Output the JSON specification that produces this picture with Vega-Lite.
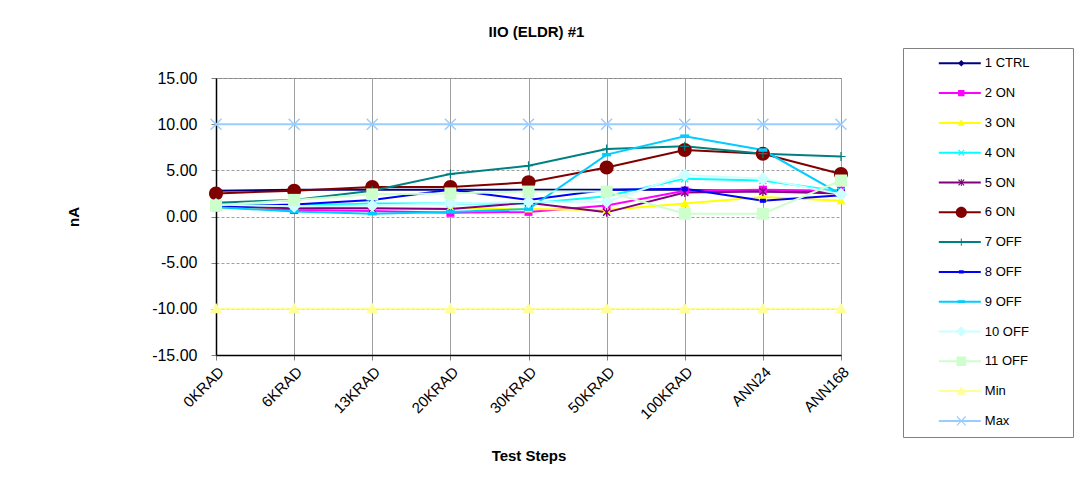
{
  "$schema": "https://vega.github.io/schema/vega-lite/v6.json",
  "autosize": "none",
  "width": 625,
  "height": 277,
  "padding": {"left": 216, "top": 78, "right": 242, "bottom": 144},
  "background": "white",
  "title": {"text": "IIO (ELDR) #1", "font": "Liberation Sans", "fontSize": 15, "fontWeight": "bold", "color": "black", "frame": "group", "anchor": "middle", "offset": 8, "dx": 8},
  "config": {
    "view": {"stroke": "#808080", "strokeWidth": 1},
    "font": "Liberation Sans"
  },
  "data": {
    "values": [
      {"step": "0KRAD", "1 CTRL": 2.8, "2 ON": 1.0, "3 ON": 0.9, "4 ON": 1.4, "5 ON": 1.1, "6 ON": 2.5, "7 OFF": 1.5, "8 OFF": 1.1, "9 OFF": 1.0, "10 OFF": 1.3, "11 OFF": 1.2, "Min": -10, "Max": 10},
      {"step": "6KRAD", "1 CTRL": 2.9, "2 ON": 0.7, "3 ON": 1.0, "4 ON": 1.2, "5 ON": 0.9, "6 ON": 2.8, "7 OFF": 1.8, "8 OFF": 1.3, "9 OFF": 0.55, "10 OFF": 1.1, "11 OFF": 1.8, "Min": -10, "Max": 10},
      {"step": "13KRAD", "1 CTRL": 2.9, "2 ON": 0.6, "3 ON": 0.8, "4 ON": 1.4, "5 ON": 0.9, "6 ON": 3.2, "7 OFF": 2.8, "8 OFF": 1.8, "9 OFF": 0.3, "10 OFF": 1.2, "11 OFF": 2.4, "Min": -10, "Max": 10},
      {"step": "20KRAD", "1 CTRL": 2.9, "2 ON": 0.4, "3 ON": 0.9, "4 ON": 1.4, "5 ON": 0.8, "6 ON": 3.2, "7 OFF": 4.6, "8 OFF": 2.9, "9 OFF": 0.5, "10 OFF": 1.4, "11 OFF": 2.5, "Min": -10, "Max": 10},
      {"step": "30KRAD", "1 CTRL": 2.9, "2 ON": 0.5, "3 ON": 0.8, "4 ON": 1.4, "5 ON": 1.5, "6 ON": 3.7, "7 OFF": 5.5, "8 OFF": 1.8, "9 OFF": 0.8, "10 OFF": 1.6, "11 OFF": 2.7, "Min": -10, "Max": 10},
      {"step": "50KRAD", "1 CTRL": 2.9, "2 ON": 1.2, "3 ON": 0.7, "4 ON": 2.2, "5 ON": 0.45, "6 ON": 5.3, "7 OFF": 7.3, "8 OFF": 2.9, "9 OFF": 6.7, "10 OFF": 1.6, "11 OFF": 2.7, "Min": -10, "Max": 10},
      {"step": "100KRAD", "1 CTRL": 2.9, "2 ON": 2.8, "3 ON": 1.4, "4 ON": 4.1, "5 ON": 2.6, "6 ON": 7.2, "7 OFF": 7.6, "8 OFF": 3.0, "9 OFF": 8.7, "10 OFF": 4.5, "11 OFF": 0.3, "Min": -10, "Max": 10},
      {"step": "ANN24", "1 CTRL": 2.7, "2 ON": 2.9, "3 ON": 2.1, "4 ON": 3.9, "5 ON": 2.7, "6 ON": 6.8, "7 OFF": 6.8, "8 OFF": 1.7, "9 OFF": 7.2, "10 OFF": 4.1, "11 OFF": 0.3, "Min": -10, "Max": 10},
      {"step": "ANN168", "1 CTRL": 2.8, "2 ON": 2.8, "3 ON": 1.7, "4 ON": 2.7, "5 ON": 2.5, "6 ON": 4.6, "7 OFF": 6.5, "8 OFF": 2.3, "9 OFF": 2.4, "10 OFF": 2.4, "11 OFF": 3.9, "Min": -10, "Max": 10}
    ]
  },
  "transform": [
    {"fold": ["1 CTRL", "2 ON", "3 ON", "4 ON", "5 ON", "6 ON", "7 OFF", "8 OFF", "9 OFF", "10 OFF", "11 OFF", "Min", "Max"], "as": ["series", "v"]}
  ],
  "encoding": {
    "x": {
      "field": "step", "type": "ordinal", "sort": null,
      "scale": {"type": "point", "padding": 0},
      "axis": {"title": "Test Steps", "titleFont": "Liberation Sans", "titleFontSize": 15, "titleFontWeight": "bold", "titleColor": "black", "titlePadding": 27,
        "labelAngle": -45, "labelFont": "Liberation Sans", "labelFontSize": 15, "labelColor": "black", "labelPadding": 4,
        "tickSize": 5, "tickColor": "#808080", "domainColor": "black", "domainWidth": 1.5,
        "grid": true, "gridColor": "#a0a0a0", "gridWidth": 1}
    },
    "y": {
      "field": "v", "type": "quantitative",
      "scale": {"domain": [-15, 15], "nice": false, "zero": false},
      "axis": {"title": "nA", "titleFont": "Liberation Sans", "titleFontSize": 15, "titleFontWeight": "bold", "titleColor": "black", "titlePadding": 70,
        "values": [-15, -10, -5, 0, 5, 10, 15],
        "labelExpr": "replace(format(datum.value, '.2f'), '\u2212', '-')",
        "labelFont": "Liberation Sans", "labelFontSize": 16, "labelColor": "black", "labelPadding": 14,
        "tickSize": 5, "tickColor": "#808080", "domainColor": "black", "domainWidth": 1.5,
        "grid": true, "gridColor": "#a0a0a0", "gridDash": [3, 2], "gridWidth": 1}
    }
  },
  "layer": [
    {
      "mark": {"type": "line", "strokeWidth": 2},
      "encoding": {
        "stroke": {
          "field": "series", "type": "nominal",
          "sort": ["1 CTRL", "2 ON", "3 ON", "4 ON", "5 ON", "6 ON", "7 OFF", "8 OFF", "9 OFF", "10 OFF", "11 OFF", "Min", "Max"],
          "scale": {
            "range": ["#000080", "#FF00FF", "#FFFF00", "#00FFFF", "#800080", "#800000", "#008080", "#0000FF", "#00CCFF", "#CCFFFF", "#CCFFCC", "#FFFF99", "#99CCFF"]
          },
          "legend": {
            "orient": "none", "legendX": 687, "legendY": -30,
            "title": "|", "titleOrient": "right", "titleColor": "transparent", "titleFontSize": 13, "titlePadding": 30,
            "symbolType": "M-1,0H1", "symbolSize": 1764, "symbolStrokeWidth": 2,
            "clipHeight": 13, "rowPadding": 15.8, "padding": 8.8, "symbolOffset": 26, "labelOffset": 3,
            "labelFont": "Liberation Sans", "labelFontSize": 13, "labelColor": "black",
            "strokeColor": "#808080"
          }
        }
      }
    },
    {
      "mark": {"type": "point", "filled": true, "size": 100, "opacity": 1, "strokeWidth": 0},
      "encoding": {
        "color": {
          "field": "series", "type": "nominal",
          "scale": {
            "domain": ["1 CTRL", "2 ON", "3 ON", "4 ON", "5 ON", "6 ON", "7 OFF", "8 OFF", "9 OFF", "10 OFF", "11 OFF", "Min", "Max"],
            "range": ["#000080", "#FF00FF", "#FFFF00", "#00FFFF", "#800080", "#800000", "#008080", "#0000FF", "#00CCFF", "#CCFFFF", "#CCFFCC", "#FFFF99", "#99CCFF"]
          },
          "legend": {
            "orient": "none", "legendX": 687, "legendY": -30, "title": null,
            "symbolSize": 64, "clipHeight": 13, "rowPadding": 15.8, "padding": 8.8, "symbolOffset": 43,
            "labelExpr": "''", "labelFontSize": 13, "strokeColor": null, "symbolOpacity": 1, "symbolStrokeWidth": 0
          }
        },
        "shape": {
          "field": "series", "type": "nominal",
          "scale": {
            "domain": ["1 CTRL", "2 ON", "3 ON", "4 ON", "5 ON", "6 ON", "7 OFF", "8 OFF", "9 OFF", "10 OFF", "11 OFF", "Min", "Max"],
            "range": [
              "M0,-0.8L0.8,0L0,0.8L-0.8,0Z",
              "M-0.8,-0.8H0.8V0.8H-0.8Z",
              "M0,-0.9L0.9,0.7H-0.9Z",
              "M-0.8,-0.6L-0.6,-0.8L0,-0.2L0.6,-0.8L0.8,-0.6L0.2,0L0.8,0.6L0.6,0.8L0,0.2L-0.6,0.8L-0.8,0.6L-0.2,0Z",
              "M-0.8,-0.6L-0.6,-0.8L0,-0.2L0.6,-0.8L0.8,-0.6L0.2,0L0.8,0.6L0.6,0.8L0,0.2L-0.6,0.8L-0.8,0.6L-0.2,0ZM-0.12,-0.9H0.12V0.9H-0.12Z",
              "M-1.4,0A1.4,1.4 0 1,1 1.4,0A1.4,1.4 0 1,1 -1.4,0Z",
              "M-0.12,-0.9H0.12V-0.12H0.9V0.12H0.12V0.9H-0.12V0.12H-0.9V-0.12H-0.12Z",
              "M-0.6,-0.4H0.6V0.4H-0.6Z",
              "M-0.9,-0.35H0.9V0.35H-0.9Z",
              "M0,-1.3L1.3,0L0,1.3L-1.3,0Z",
              "M-1.2,-1.2H1.2V1.2H-1.2Z",
              "M0,-1.2L1.2,0.9H-1.2Z",
              "M-1.2,-1L-1,-1.2L0,-0.2L1,-1.2L1.2,-1L0.2,0L1.2,1L1,1.2L0,0.2L-1,1.2L-1.2,1L-0.2,0Z"
            ]
          },
          "legend": {
            "orient": "none", "legendX": 687, "legendY": -30, "title": null,
            "symbolSize": 64, "clipHeight": 13, "rowPadding": 15.8, "padding": 8.8, "symbolOffset": 43,
            "labelExpr": "''", "labelFontSize": 13, "strokeColor": null, "symbolOpacity": 1, "symbolStrokeWidth": 0
          }
        }
      }
    }
  ]
}
